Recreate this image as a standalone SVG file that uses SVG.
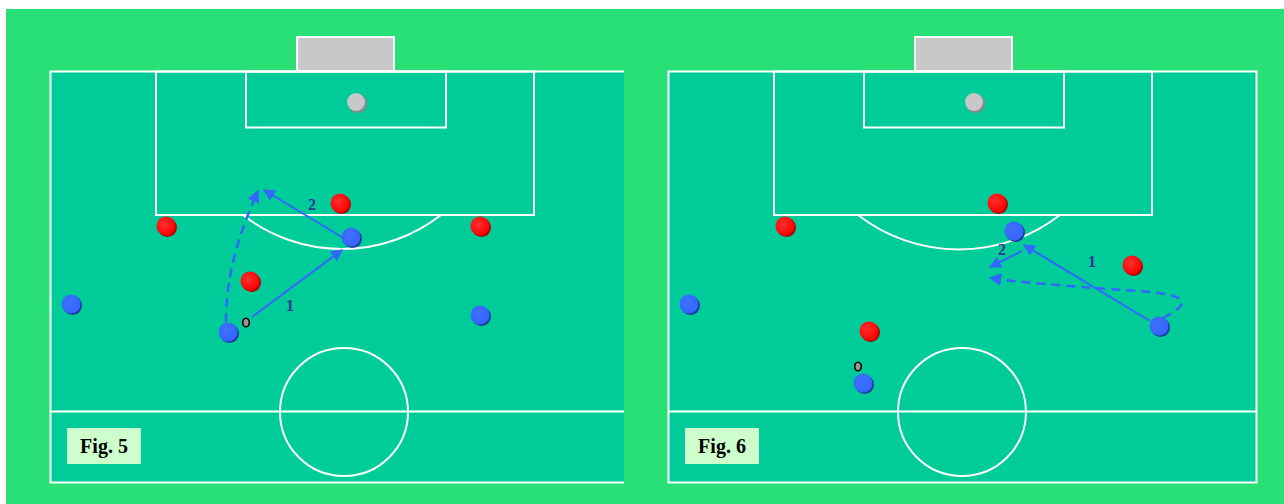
<svg xmlns="http://www.w3.org/2000/svg" width="1284" height="504" viewBox="0 0 1284 504">
<defs>
<style>
.line{fill:none;stroke:#ffffff;stroke-width:2}
.field{fill:#00cc99}
.goal{fill:#c8c8c8;stroke:#ffffff;stroke-width:2}
.redsh{fill:#b00000}
.bluesh{fill:#1f3a99}
.gray{fill:#c8c8c8}
.graysh{fill:#8a8a8a}
.arr{fill:none;stroke:#3366ff;stroke-width:2}
.dash{fill:none;stroke:#3366ff;stroke-width:2.5;stroke-dasharray:9,6}
.num{font-family:"Liberation Serif",serif;font-weight:bold;font-size:16px;fill:#333399}
.fig{font-family:"Liberation Serif",serif;font-weight:bold;font-size:20px;fill:#000000}
.figbox{fill:#ccffcc}
.ball{fill:#999999;stroke:#000000;stroke-width:1.6}
</style>
<marker id="ah" viewBox="0 0 10 10" refX="9" refY="5" markerWidth="6" markerHeight="6" orient="auto" markerUnits="strokeWidth">
<path d="M0,0 L10,5 L0,10 z" fill="#3366ff"/>
</marker>
<marker id="ahd" viewBox="0 0 10 10" refX="9" refY="5" markerWidth="5" markerHeight="5" orient="auto" markerUnits="strokeWidth">
<path d="M0,0 L10,5 L0,10 z" fill="#3366ff"/>
</marker>
<radialGradient id="gr" cx="0.4" cy="0.4" r="0.6"><stop offset="0" stop-color="#ff3030"/><stop offset="1" stop-color="#ff0000"/></radialGradient>
<radialGradient id="gb" cx="0.4" cy="0.4" r="0.6"><stop offset="0" stop-color="#4070ff"/><stop offset="1" stop-color="#3366ff"/></radialGradient>
</defs>
<rect x="0" y="0" width="1284" height="504" fill="#ffffff"/>
<rect x="6" y="9" width="1278" height="495" fill="#28e076"/>

<g id="pitch5">
<rect class="field" x="50" y="71" width="574" height="412"/>
<path class="line" d="M624,71.5 H50.5 V482.5 H624"/>
<line class="line" x1="50" y1="411.5" x2="624" y2="411.5"/>
<circle class="line" cx="344" cy="412" r="64"/>
<rect class="line" x="156" y="71.5" width="378" height="143.5"/>
<rect class="line" x="246" y="71.5" width="200" height="56"/>
<path class="line" d="M243,215 A161,161 0 0 0 441,215"/>
<rect class="goal" x="297" y="37" width="97" height="34"/>
</g>
<g id="pitch6">
<rect class="field" x="668" y="71" width="588" height="412"/>
<rect class="line" x="668.5" y="71.5" width="588" height="411"/>
<line class="line" x1="668" y1="411.5" x2="1256" y2="411.5"/>
<circle class="line" cx="962" cy="412" r="64"/>
<rect class="line" x="774" y="71.5" width="378" height="143.5"/>
<rect class="line" x="864" y="71.5" width="200" height="56"/>
<path class="line" d="M858,215 A165,165 0 0 0 1060,215"/>
<rect class="goal" x="915" y="37" width="97" height="34"/>
</g>

<g id="gk5"><circle class="graysh" cx="357.5" cy="103.5" r="9.5"/><circle class="gray" cx="356" cy="102" r="9"/></g>
<g id="gk6"><circle class="graysh" cx="975.5" cy="103.5" r="9.5"/><circle class="gray" cx="974" cy="102" r="9"/></g>

<g id="players5">
<g id="r5a"><circle class="redsh" cx="167.5" cy="227.5" r="9.5"/><circle fill="url(#gr)" cx="166" cy="226" r="9.5"/></g>
<g id="r5b"><circle class="redsh" cx="341.5" cy="204.5" r="9.5"/><circle fill="url(#gr)" cx="340" cy="203" r="9.5"/></g>
<g id="r5c"><circle class="redsh" cx="481.5" cy="227.5" r="9.5"/><circle fill="url(#gr)" cx="480" cy="226" r="9.5"/></g>
<g id="r5d"><circle class="redsh" cx="251.5" cy="282.5" r="9.5"/><circle fill="url(#gr)" cx="250" cy="281" r="9.5"/></g>
<g id="b5a"><circle class="bluesh" cx="72.5" cy="305.5" r="9.5"/><circle fill="url(#gb)" cx="71" cy="304" r="9.5"/></g>
<g id="b5b"><circle class="bluesh" cx="352.5" cy="238.5" r="9.5"/><circle fill="url(#gb)" cx="351" cy="237" r="9.5"/></g>
<g id="b5c"><circle class="bluesh" cx="229.5" cy="333.5" r="9.5"/><circle fill="url(#gb)" cx="228" cy="332" r="9.5"/></g>
<g id="b5d"><circle class="bluesh" cx="481.5" cy="316.5" r="9.5"/><circle fill="url(#gb)" cx="480" cy="315" r="9.5"/></g>
<g id="ball5"><ellipse class="ball" cx="246" cy="322.5" rx="3.3" ry="4.3"/></g>
</g>

<g id="players6">
<g id="r6a"><circle class="redsh" cx="786.5" cy="227.5" r="9.5"/><circle fill="url(#gr)" cx="785" cy="226" r="9.5"/></g>
<g id="r6b"><circle class="redsh" cx="998.5" cy="204.5" r="9.5"/><circle fill="url(#gr)" cx="997" cy="203" r="9.5"/></g>
<g id="r6c"><circle class="redsh" cx="1133.5" cy="266.5" r="9.5"/><circle fill="url(#gr)" cx="1132" cy="265" r="9.5"/></g>
<g id="r6d"><circle class="redsh" cx="870.5" cy="332.5" r="9.5"/><circle fill="url(#gr)" cx="869" cy="331" r="9.5"/></g>
<g id="b6a"><circle class="bluesh" cx="690.5" cy="305.5" r="9.5"/><circle fill="url(#gb)" cx="689" cy="304" r="9.5"/></g>
<g id="b6b"><circle class="bluesh" cx="1015.5" cy="232.5" r="9.5"/><circle fill="url(#gb)" cx="1014" cy="231" r="9.5"/></g>
<g id="b6c"><circle class="bluesh" cx="1160.5" cy="327.5" r="9.5"/><circle fill="url(#gb)" cx="1159" cy="326" r="9.5"/></g>
<g id="b6d"><circle class="bluesh" cx="864.5" cy="384.5" r="9.5"/><circle fill="url(#gb)" cx="863" cy="383" r="9.5"/></g>
<g id="ball6"><ellipse class="ball" cx="858" cy="366.5" rx="3.3" ry="4.3"/></g>
</g>

<g id="connectors">
<line class="arr" x1="252" y1="317" x2="342" y2="250" marker-end="url(#ah)"/>
<line class="arr" x1="345" y1="239" x2="264" y2="190" marker-end="url(#ah)"/>
<path class="dash" d="M226,322 C226,280 236,240 258,191" marker-end="url(#ahd)"/>
<line class="arr" x1="1150" y1="321" x2="1024" y2="245" marker-end="url(#ah)"/>
<line class="arr" x1="1022" y1="251" x2="990" y2="267" marker-end="url(#ah)"/>
<path class="dash" d="M1163,318 C1190,304 1190,296 1150,292 C1100,288 1040,285 990,278" marker-end="url(#ahd)"/>
</g>

<g id="labels">
<text class="num" x="290" y="311" text-anchor="middle">1</text>
<text class="num" x="312" y="210" text-anchor="middle">2</text>
<text class="num" x="1092" y="267" text-anchor="middle">1</text>
<text class="num" x="1002" y="255" text-anchor="middle">2</text>
</g>

<g id="fig5"><rect class="figbox" x="67" y="428" width="74" height="36"/><text class="fig" x="104" y="453" text-anchor="middle">Fig. 5</text></g>
<g id="fig6"><rect class="figbox" x="685" y="428" width="74" height="36"/><text class="fig" x="722" y="453" text-anchor="middle">Fig. 6</text></g>
</svg>
